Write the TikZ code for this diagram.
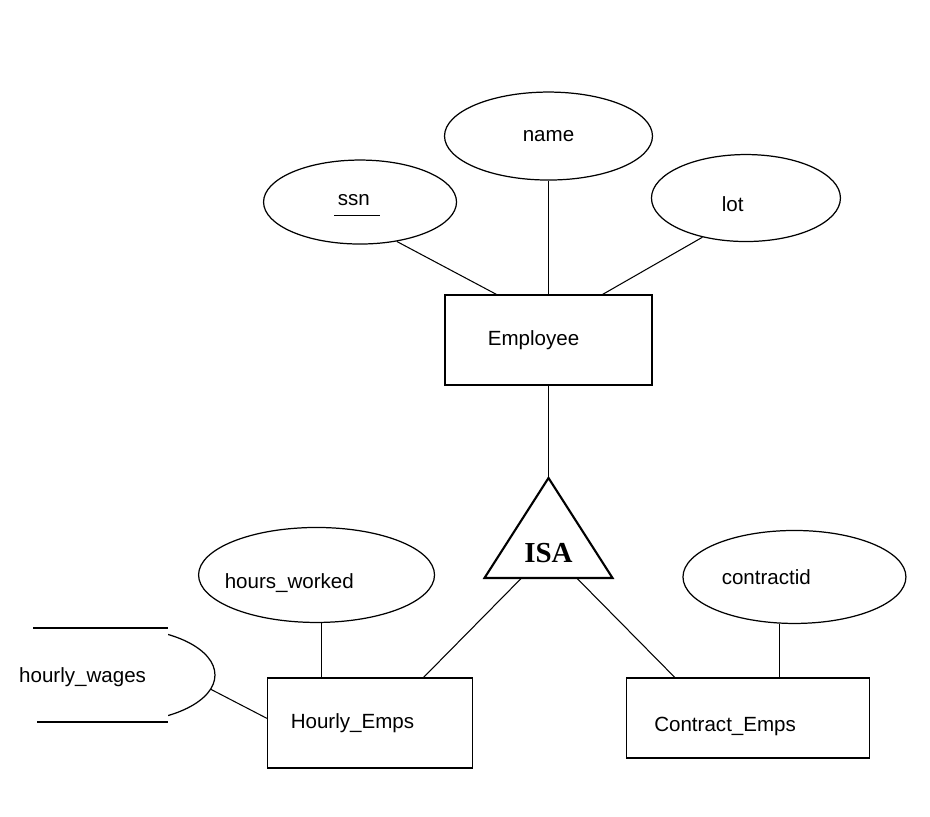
\documentclass[tikz,border=0pt]{standalone}
\usepackage{fontspec}
\setmainfont{Liberation Sans}
\newfontfamily\isafont{Liberation Serif}
\usepackage{tikz}
\usetikzlibrary{calc,positioning,shapes.geometric}
\newcommand{\nudge}[1]{\hspace*{-#1}}
\tikzset{%
	entity/.style = {draw, rectangle, inner sep=0pt, line width=0.7pt, font=\fontsize{11.7}{14}\selectfont}, % Entity set
	attr/.style   = {draw, ellipse, inner sep=0pt, line width=0.7pt, font=\fontsize{11.7}{14}\selectfont}, % Attribute
	plain/.style  = {inner sep=0pt, font=\fontsize{11.7}{14}\selectfont}, % Loose text
	low/.style    = {text height=15pt, text depth=0pt}, % Text set a little low
	link/.style   = {line width=0.6pt}, % Connector
}

\begin{document}
\begin{tikzpicture}[x=0.02cm,y=-0.02cm,on grid]
	\useasboundingbox (0,0) rectangle (930,816);
	\node [entity,minimum width=4.14cm,minimum height=1.8cm] (emp) at (548.5,340) {\nudge{17pt}Employee};
	\node [attr,minimum width=4.16cm,minimum height=1.76cm] (name) [above=4.08cm of emp] {name};
	\node [attr,minimum width=3.86cm,minimum height=1.68cm] (ssn) [above left=2.76cm and 3.77cm of emp] {\nudge{3pt}\underline{\strut\kern2pt ssn\kern6pt}};
	\node [attr,low,minimum width=3.78cm,minimum height=1.74cm] (lot) [above right=2.84cm and 3.95cm of emp] {\nudge{15pt}lot};
	\node [inner sep=0pt,font=\isafont\bfseries\fontsize{16.5}{20}\selectfont] (isa) [below=4.26cm of emp] {ISA};
	\coordinate (isatop) at ($(isa)+(0,-75)$);
	\coordinate (isaleft) at ($(isa)+(-64,25)$);
	\coordinate (isaright) at ($(isa)+(64,25)$);
	\node [entity,minimum width=4.1cm,minimum height=1.8cm] (he) [below left=3.4cm and 3.57cm of isa] {\nudge{20pt}Hourly\_Emps};
	\node [entity,low,minimum width=4.86cm,minimum height=1.6cm] (ce) [below right=3.3cm and 3.99cm of isa] {\nudge{26pt}Contract\_Emps};
	\node [attr,low,minimum width=4.72cm,minimum height=1.9cm] (hw) [above left=2.96cm and 1.07cm of he] {\nudge{31pt}hours\_worked};
	\node [attr,minimum width=4.46cm,minimum height=1.86cm] (cid) [above right=2.82cm and 0.93cm of ce] {\nudge{32pt}contractid};
	\node [plain] (wages) [above left=0.92cm and 5.75cm of he] {hourly\_wages};
	
	% hourly_wages oval, cut off on the left
	\begin{scope}
		\clip (168,600) rectangle (260,750);
		\node [attr,minimum width=3.8cm,minimum height=1.88cm] (wagesoval) at (120,675) {};
	\end{scope}
	\draw[link] (33,628) -- (168,628);
	\draw[link] (37,722) -- (168,722);
	
	\draw[line width=1.2pt] (isatop) -- (isaleft) -- (isaright) -- cycle;
	
	\draw[link] (ssn.-47) -- ($(emp.north west)!0.25!(emp.north east)$);
	\draw[link] (name) -- (emp);
	\draw[link] (lot.-138) -- ($(emp.north west)!0.76!(emp.north east)$);
	\draw[link] (emp) -- (isatop);
	\draw[link] ($(isaleft)!0.29!(isaright)$) -- ($(he.north west)!0.76!(he.north east)$);
	\draw[link] ($(isaleft)!0.72!(isaright)$) -- ($(ce.north west)!0.2!(ce.north east)$);
	\draw[link] (hw.-84) -- (hw.-84 |- he.north);
	\draw[link] (cid.-108) -- (cid.-108 |- ce.north);
	\draw[link] (wagesoval.-9) -- ($(he.north west)!0.45!(he.south west)$);
\end{tikzpicture}
\end{document}
